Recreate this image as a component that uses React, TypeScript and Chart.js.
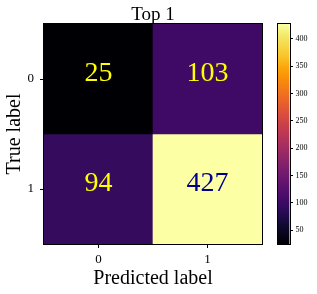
import { useEffect, useRef } from "react";
import { Chart, registerables } from "chart.js";

Chart.register(...registerables);

// ---- data ----
const predictedLabels = ["0", "1"];
const trueLabels = ["0", "1"];
const row0Values = [25, 103];
const row1Values = [94, 427];
const colorbarTicks = [50, 100, 150, 200, 250, 300, 350, 400];
const titleText = "Top 1";
const xTitleText = "Predicted label";
const yTitleText = "True label";

// inferno colormap stops (every 0.05)
const INFERNO = [
  "#000004", "#08051d", "#160b39", "#2b0b57", "#420a68", "#57106e",
  "#6a176e", "#7e1e6c", "#932667", "#a82e5f", "#bc3754", "#cc4248",
  "#dd513a", "#ea632a", "#f37819", "#f98e09", "#fca50a", "#fac228",
  "#f6d746", "#f2ea69", "#fcffa4",
];

function hexToRgb(h: string) {
  const n = parseInt(h.slice(1), 16);
  return [(n >> 16) & 255, (n >> 8) & 255, n & 255];
}
function inferno(t: number) {
  const x = Math.max(0, Math.min(1, t)) * (INFERNO.length - 1);
  const i = Math.min(INFERNO.length - 2, Math.floor(x));
  const f = x - i;
  const a = hexToRgb(INFERNO[i]);
  const b = hexToRgb(INFERNO[i + 1]);
  const c = a.map((v, k) => Math.round(v + (b[k] - v) * f));
  return `rgb(${c[0]},${c[1]},${c[2]})`;
}

const allValues = [...row0Values, ...row1Values];
const vmin = Math.min(...allValues);
const vmax = Math.max(...allValues);
const colorOf = (v: number) => inferno((v - vmin) / (vmax - vmin));
const textColorOf = (v: number) => (v > (vmin + vmax) / 2 ? "darkblue" : "yellow");

const SERIF = "'Liberation Serif', 'Times New Roman', serif";

export default function App() {
  const mainRef = useRef<HTMLCanvasElement>(null);
  const cbRef = useRef<HTMLCanvasElement>(null);

  useEffect(() => {
    Chart.defaults.color = "#000";
    const rows = [row0Values, row1Values];

    const framePlugin = {
      id: "frame",
      afterDatasetsDraw(chart: any) {
        const { ctx, chartArea: a } = chart;
        // cell value labels
        chart.data.datasets.forEach((ds: any, di: number) => {
          const meta = chart.getDatasetMeta(di);
          meta.data.forEach((el: any, i: number) => {
            const v = ds.counts[i];
            const cy = (el.y + el.base) / 2;
            ctx.save();
            ctx.font = `28px ${SERIF}`;
            ctx.fillStyle = textColorOf(v);
            ctx.textAlign = "center";
            ctx.textBaseline = "alphabetic";
            ctx.fillText(String(v), el.x, cy + 2);
            ctx.restore();
          });
        });
        ctx.save();
        ctx.strokeStyle = "#000";
        ctx.lineWidth = 1;
        ctx.strokeRect(Math.round(a.left) - 0.5, Math.round(a.top) - 0.5, Math.round(a.right - a.left) + 1, Math.round(a.bottom - a.top) + 1);
        // title
        ctx.font = `19px ${SERIF}`;
        ctx.fillStyle = "#000";
        ctx.textAlign = "center";
        ctx.textBaseline = "alphabetic";
        ctx.fillText(titleText, (a.left + a.right) / 2, 19.5);
        ctx.restore();
      },
    };

    const main = new Chart(mainRef.current!, {
      type: "bar",
      data: {
        labels: predictedLabels,
        datasets: rows.map((vals, r) => ({
          label: trueLabels[r],
          data: vals.map(() => [r, r + 1]),
          counts: vals,
          backgroundColor: vals.map(colorOf),
          borderWidth: 0,
          barPercentage: 1,
          categoryPercentage: 1,
          grouped: false,
        })) as any,
      },
      options: {
        responsive: false,
        animation: false,
        devicePixelRatio: 1,
        layout: { padding: { left: 0, right: 55, top: 24, bottom: 0 } },
        plugins: { legend: { display: false }, tooltip: { enabled: false } },
        scales: {
          x: {
            type: "category",
            offset: true,
            border: { display: false },
            grid: { drawOnChartArea: false, offset: false, tickLength: 4, color: "#000" },
            ticks: { font: { family: SERIF, size: 13 }, color: "#000", padding: 4, maxRotation: 0 },
            title: { display: true, text: xTitleText, font: { family: SERIF, size: 20 }, color: "#000", padding: { top: 0, bottom: 3.75 } },
            afterFit: (s: any) => { s.height = 50; },
          },
          y: {
            type: "linear",
            min: 0,
            max: 2,
            reverse: true,
            border: { display: false },
            grid: { drawOnChartArea: false, tickLength: 4, color: "#000" },
            afterBuildTicks: (s: any) => { s.ticks = trueLabels.map((_, i) => ({ value: i + 0.5 })); },
            ticks: {
              font: { family: SERIF, size: 13 },
              color: "#000",
              padding: 6,
              callback: (_v: any, i: number) => trueLabels[i],
            },
            title: { display: true, text: yTitleText, font: { family: SERIF, size: 20 }, color: "#000", padding: { top: 3, bottom: 0 } },
            afterFit: (s: any) => { s.width = 44; },
          },
        },
      },
      plugins: [framePlugin],
    } as any);

    const cbFrame = {
      id: "cbFrame",
      afterDatasetsDraw(chart: any) {
        const { ctx, chartArea: a } = chart;
        ctx.save();
        ctx.strokeStyle = "#000";
        ctx.lineWidth = 1;
        ctx.strokeRect(Math.round(a.left) - 0.5, Math.round(a.top) - 0.5, Math.round(a.right - a.left) + 1, Math.round(a.bottom - a.top) + 1);
        ctx.restore();
      },
    };

    const cb = new Chart(cbRef.current!, {
      type: "bar",
      data: {
        labels: ["colorbar"],
        datasets: [
          {
            data: [[vmin, vmax]],
            borderWidth: 0,
            barPercentage: 1,
            categoryPercentage: 1,
            backgroundColor: (c: any) => {
              const area = c.chart.chartArea;
              if (!area) return INFERNO[0];
              const g = c.chart.ctx.createLinearGradient(0, area.bottom, 0, area.top);
              INFERNO.forEach((col, i) => g.addColorStop(i / (INFERNO.length - 1), col));
              return g;
            },
          },
        ] as any,
      },
      options: {
        responsive: false,
        animation: false,
        devicePixelRatio: 1,
        layout: { padding: { left: 8, right: 0, top: 24, bottom: 50 } },
        plugins: { legend: { display: false }, tooltip: { enabled: false } },
        scales: {
          x: { display: false, offset: true },
          y: {
            position: "right",
            type: "linear",
            min: vmin,
            max: vmax,
            border: { display: false },
            grid: { drawOnChartArea: false, tickLength: 3.5, color: "#000" },
            afterBuildTicks: (s: any) => { s.ticks = colorbarTicks.map((v) => ({ value: v })); },
            ticks: { font: { family: SERIF, size: 8 }, color: "#000", padding: 2.5 },
            afterFit: (s: any) => { s.width = 27.5; },
          },
        },
      },
      plugins: [cbFrame],
    } as any);

    return () => {
      main.destroy();
      cb.destroy();
    };
  }, []);

  return (
    <div style={{ position: "absolute", left: 0, top: 0, width: 317, height: 294, background: "#fff" }}>
      <canvas ref={mainRef} width={317} height={294} style={{ position: "absolute", left: 0, top: 0, width: 317, height: 294 }} />
      <canvas ref={cbRef} width={47} height={294} style={{ position: "absolute", left: 270, top: 0, width: 47, height: 294 }} />
    </div>
  );
}
